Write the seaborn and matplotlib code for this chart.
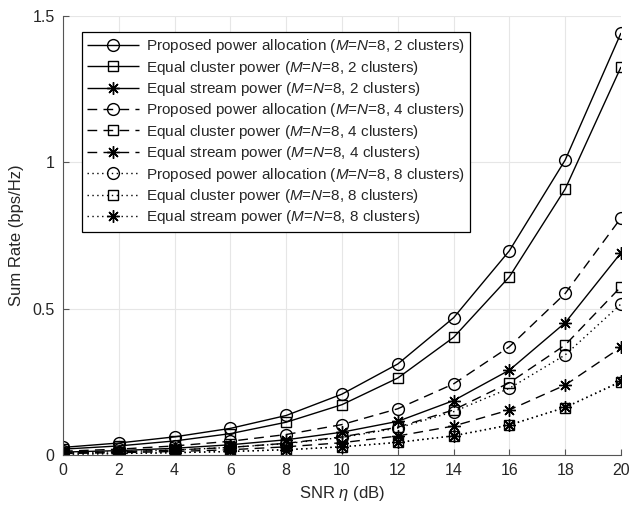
import matplotlib
matplotlib.use("Agg")
import matplotlib.pyplot as plt
import seaborn as sns
import numpy as np

snr = [0, 2, 4, 6, 8, 10, 12, 14, 16, 18, 20]

prop_2 = [0.026, 0.041, 0.062, 0.091, 0.135, 0.208, 0.311, 0.469, 0.698, 1.008, 1.442]
eqc_2 = [0.020, 0.031, 0.048, 0.073, 0.112, 0.172, 0.263, 0.402, 0.609, 0.909, 1.326]
eqs_2 = [0.010, 0.015, 0.023, 0.035, 0.052, 0.078, 0.115, 0.186, 0.290, 0.452, 0.691]
prop_4 = [0.013, 0.020, 0.031, 0.047, 0.070, 0.104, 0.158, 0.243, 0.370, 0.552, 0.810]
eqc_4 = [0.007, 0.011, 0.017, 0.026, 0.040, 0.062, 0.095, 0.154, 0.247, 0.376, 0.575]
eqs_4 = [0.005, 0.008, 0.012, 0.018, 0.028, 0.042, 0.065, 0.099, 0.154, 0.239, 0.368]
prop_8 = [0.007, 0.011, 0.017, 0.026, 0.039, 0.060, 0.092, 0.148, 0.228, 0.342, 0.516]
eqc_8 = [0.003, 0.005, 0.008, 0.012, 0.018, 0.028, 0.043, 0.065, 0.102, 0.162, 0.250]
eqs_8 = [0.003, 0.005, 0.008, 0.012, 0.018, 0.028, 0.043, 0.066, 0.103, 0.163, 0.252]

labels = [
    r"Proposed power allocation ($M$=$N$=8, 2 clusters)",
    r"Equal cluster power ($M$=$N$=8, 2 clusters)",
    r"Equal stream power ($M$=$N$=8, 2 clusters)",
    r"Proposed power allocation ($M$=$N$=8, 4 clusters)",
    r"Equal cluster power ($M$=$N$=8, 4 clusters)",
    r"Equal stream power ($M$=$N$=8, 4 clusters)",
    r"Proposed power allocation ($M$=$N$=8, 8 clusters)",
    r"Equal cluster power ($M$=$N$=8, 8 clusters)",
    r"Equal stream power ($M$=$N$=8, 8 clusters)",
]
series = [prop_2, eqc_2, eqs_2, prop_4, eqc_4, eqs_4, prop_8, eqc_8, eqs_8]

xticks = [0, 2, 4, 6, 8, 10, 12, 14, 16, 18, 20]
yticks = [0, 0.5, 1, 1.5]
ytick_labels = ["0", "0.5", "1", "1.5"]

sns.set_theme(style="white")
plt.rcParams["font.family"] = ["Liberation Sans", "DejaVu Sans"]
plt.rcParams["mathtext.fontset"] = "custom"
plt.rcParams["mathtext.it"] = "Liberation Sans:italic"
plt.rcParams["mathtext.rm"] = "Liberation Sans"

fig = plt.figure(figsize=(6.33, 5.07), dpi=100)
ax = fig.add_axes([63 / 633, 1 - 455 / 507, (621 - 63) / 633, (455 - 16) / 507])

markers = ["o", "s", (8, 2, 0)]
sizes = [8.5, 6.8, 9]
styles = [(0, ()), (0, (7, 4.5)), (0, (1, 2.5))]

for i, (vals, lab) in enumerate(zip(series, labels)):
    mk = markers[i % 3]
    ls = styles[i // 3]
    sns.lineplot(x=snr, y=vals, ax=ax, color="black", linestyle=ls, linewidth=1.0,
                 marker=mk, markersize=sizes[i % 3],
                 markerfacecolor="none", markeredgecolor="black",
                 markeredgewidth=1.0, label=lab)

ax.set_xlim(0, 20)
ax.set_ylim(0, 1.5)
ax.set_xticks(xticks)
ax.set_xticklabels([str(t) for t in xticks])
ax.set_yticks(yticks)
ax.set_yticklabels(ytick_labels)
ax.grid(True, color="#e6e6e6", linewidth=0.8)
ax.set_axisbelow(True)
for side in ["top", "right"]:
    ax.spines[side].set_visible(False)
for side in ["left", "bottom"]:
    ax.spines[side].set_color("#555555")
    ax.spines[side].set_linewidth(0.8)
ax.tick_params(axis="both", direction="in", length=4, width=0.8, color="#555555",
               labelsize=11.5, labelcolor="#262626", pad=6, bottom=True, left=True)
ax.set_xlabel(r"SNR $\eta$ (dB)", fontsize=12, color="#262626", labelpad=4)
ax.set_ylabel("Sum Rate (bps/Hz)", fontsize=12, color="#262626", labelpad=6)

leg = ax.legend(loc="upper left", bbox_to_anchor=((82 - 63) / 558, (455 - 32) / 439),
                borderaxespad=0, fontsize=11, frameon=True, fancybox=False,
                edgecolor="black", framealpha=1, handlelength=3.4, handletextpad=0.45,
                labelspacing=0.22, borderpad=0.35)
leg.get_frame().set_linewidth(0.9)

fig.savefig("out.png", dpi=100)
